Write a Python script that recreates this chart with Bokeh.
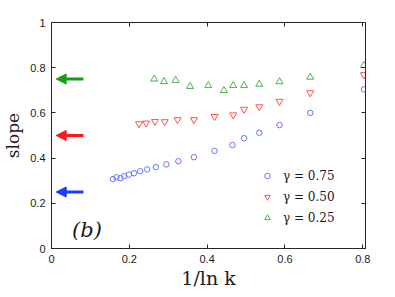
from bokeh.plotting import figure
from bokeh.models import (Range1d, LinearAxis, FixedTicker, Label, Arrow, NormalHead,
                          Legend, LegendItem)
from bokeh.embed import file_html
from bokeh.resources import INLINE

# ---- data ----
blue_x = [0.158, 0.167, 0.177, 0.187, 0.199, 0.212, 0.228, 0.246, 0.268, 0.295,
          0.326, 0.366, 0.419, 0.465, 0.495, 0.534, 0.586, 0.665, 0.803]
blue_y = [0.307, 0.315, 0.311, 0.320, 0.327, 0.333, 0.342, 0.350, 0.360, 0.372,
          0.386, 0.404, 0.432, 0.458, 0.488, 0.512, 0.546, 0.600, 0.704]
red_x = [0.225, 0.243, 0.266, 0.291, 0.324, 0.366, 0.419, 0.467, 0.495, 0.534,
         0.586, 0.665, 0.803]
red_y = [0.552, 0.555, 0.562, 0.561, 0.570, 0.570, 0.584, 0.591, 0.616, 0.627,
         0.651, 0.689, 0.769]
green_x = [0.264, 0.289, 0.319, 0.356, 0.403, 0.443, 0.467, 0.495, 0.534, 0.586,
           0.665, 0.803]
green_y = [0.750, 0.739, 0.744, 0.717, 0.721, 0.699, 0.721, 0.721, 0.727, 0.738,
           0.758, 0.810]
series_labels = ["γ = 0.75", "γ = 0.50", "γ = 0.25"]
limit_values = [0.25, 0.50, 0.75]   # arrows (blue, red, green)

x_ticks = [0, 0.2, 0.4, 0.6, 0.8]
x_tick_labels = ["0", "0.2", "0.4", "0.6", "0.8"]
y_ticks = [0, 0.2, 0.4, 0.6, 0.8, 1.0]
y_tick_labels = ["0", "0.2", "0.4", "0.6", "0.8", "1"]

AX = "#262626"
TXT = "#1a1a1a"
TICK_FONT = "Liberation Sans"
SERIF = "DejaVu Serif"

p = figure(width=395, height=297, output_backend="svg", toolbar_location=None,
           x_range=Range1d(0, 0.807), y_range=Range1d(0, 1),
           min_border_left=51, min_border_right=30, min_border_top=22, min_border_bottom=49)
p.grid.visible = False
p.outline_line_color = AX
p.background_fill_color = "white"
p.border_fill_color = "white"

def style_axis(ax, ticks, labels, show_labels=True):
    ax.ticker = FixedTicker(ticks=ticks)
    ax.minor_tick_line_color = None
    ax.major_tick_in = 4
    ax.major_tick_out = 0
    ax.axis_line_color = AX
    ax.major_tick_line_color = AX
    ax.major_label_text_font = TICK_FONT
    ax.major_label_text_color = TXT
    ax.major_label_text_font_size = "11px"
    if show_labels:
        ax.major_label_overrides = {t: l for t, l in zip(ticks, labels)}
        ax.major_label_standoff = 6
    else:
        ax.major_label_overrides = {t: "" for t in ticks}
        ax.major_label_standoff = 0

ax_bottom = p.xaxis[0]
ax_left = p.yaxis[0]
style_axis(ax_bottom, x_ticks, x_tick_labels)
style_axis(ax_left, y_ticks, y_tick_labels)
ax_top = LinearAxis()
style_axis(ax_top, x_ticks, x_tick_labels, show_labels=False)
p.add_layout(ax_top, "above")
ax_right = LinearAxis()
style_axis(ax_right, y_ticks, y_tick_labels, show_labels=False)
p.add_layout(ax_right, "right")

# axis titles
ax_bottom.axis_label = "1/ln k"
ax_bottom.axis_label_text_font = SERIF
ax_bottom.axis_label_text_font_size = "19px"
ax_bottom.axis_label_text_font_style = "normal"
ax_bottom.axis_label_text_color = TXT
ax_bottom.axis_label_standoff = 1
ax_left.axis_label = "slope"
ax_left.axis_label_text_font = SERIF
ax_left.axis_label_text_font_size = "17px"
ax_left.axis_label_text_font_style = "normal"
ax_left.axis_label_text_color = TXT
ax_left.axis_label_standoff = 4

# ---- data markers ----
r_blue = p.scatter(blue_x, blue_y, marker="circle", size=5.5, fill_color=None,
                   line_color="#6677ff", line_width=1)
r_red = p.scatter(red_x, red_y, marker="inverted_triangle", size=7, fill_color=None,
                  line_color="#ff5050", line_width=1)
r_green = p.scatter(green_x, green_y, marker="triangle", size=7, fill_color=None,
                    line_color="#4cb34c", line_width=1)

# ---- arrows marking the limits ----
arrow_colors = ["#1a3cff", "#ff1a1a", "#1a9a1a"]
for val, c in zip(limit_values, arrow_colors):
    p.add_layout(Arrow(end=NormalHead(size=10, fill_color=c, line_color=c, line_width=1),
                       x_start=0.082, y_start=val, x_end=0.012, y_end=val,
                       line_color=c, line_width=3))

# ---- legend ----
legend = Legend(items=[LegendItem(label=series_labels[0], renderers=[r_blue]),
                       LegendItem(label=series_labels[1], renderers=[r_red]),
                       LegendItem(label=series_labels[2], renderers=[r_green])],
                location=(209, 20), border_line_color=None, background_fill_alpha=0,
                padding=0, margin=0, spacing=0, glyph_width=14, glyph_height=21,
                label_height=21, label_standoff=9,
                label_text_font=SERIF, label_text_font_size="12px",
                label_text_color=TXT)
p.add_layout(legend)

# ---- panel tag ----
p.add_layout(Label(x=0.091, y=0.083, text="(b)", text_font=SERIF, text_font_size="21px",
                   text_font_style="italic", text_align="center", text_baseline="middle",
                   text_color=TXT))

open("out.html", "w").write(file_html(p, INLINE))
